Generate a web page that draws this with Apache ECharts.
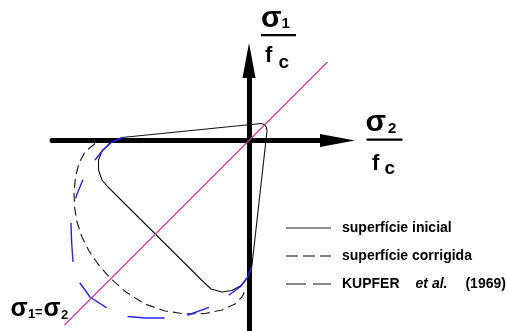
<!DOCTYPE html>
<html>
<head>
<meta charset="utf-8">
<script src="https://cdn.jsdelivr.net/npm/echarts@6/dist/echarts.min.js"></script>
<style>
  html, body { margin: 0; padding: 0; background: #fff; }
  #chart { width: 508px; height: 331px; }
</style>
</head>
<body>
<div id="chart"></div>
<script>
// Biaxial failure envelopes in the (σ2/fc, σ1/fc) plane.
// Each point is [σ2/fc, σ1/fc].

// Initial surface (rounded, closed contour)
const initialSurface = [
  [-1.016, 0.024], [0.096, 0.136], [0.124, 0.128], [0.140, 0.104], [0.144, 0.076],
  [0.024, -0.996], [0.000, -1.084], [-0.056, -1.156], [-0.136, -1.200], [-0.216, -1.212],
  [-0.304, -1.188], [-0.384, -1.112], [-1.128, -0.372], [-1.176, -0.316], [-1.204, -0.236],
  [-1.204, -0.156], [-1.176, -0.084], [-1.112, -0.020], [-1.016, 0.024]
];

// Corrected surface
const correctedSurface = [
  [-1.232, -0.024], [-1.312, -0.092], [-1.360, -0.180], [-1.388, -0.292], [-1.400, -0.412],
  [-1.396, -0.532], [-1.376, -0.652], [-1.336, -0.772], [-1.280, -0.884], [-1.208, -0.988],
  [-1.112, -1.100], [-0.984, -1.212], [-0.832, -1.308], [-0.672, -1.364], [-0.512, -1.388],
  [-0.352, -1.384], [-0.216, -1.356], [-0.112, -1.308], [-0.056, -1.252], [-0.032, -1.204]
];

// Experimental envelope, KUPFER et al. (1969)
const kupferEnvelope = [
  [-1.008, 0.024], [-1.096, -0.012], [-1.168, -0.076], [-1.232, -0.156], [-1.288, -0.236],
  [-1.336, -0.332], [-1.376, -0.428], [-1.408, -0.540], [-1.424, -0.660], [-1.420, -0.796],
  [-1.408, -0.972], [-1.384, -1.060], [-1.352, -1.140], [-1.272, -1.252], [-1.136, -1.340],
  [-0.968, -1.408], [-0.832, -1.420], [-0.672, -1.420], [-0.488, -1.396], [-0.312, -1.332],
  [-0.160, -1.236], [-0.072, -1.172], [-0.016, -1.100], [0.024, -1.012]
];

// Equal biaxial stress path σ1 = σ2
const equalStressLine = [[-1.476, -1.476], [0.628, 0.628]];

const seriesNames = ['superfície inicial', 'superfície corrigida', 'KUPFER et al. (1969)'];

// Visible window of the two stress axes
const xRange = [-1.576, 0.708];
const yRange = [-1.524, 0.64];

const FONT = '"Liberation Sans", Arial, sans-serif';

function label(text, x, baseline, size) {
  // centre the em box so that the glyph baseline lands on `baseline`
  return {
    type: 'text',
    silent: true,
    style: {
      text: text,
      x: x,
      y: baseline - 0.3465 * size,
      fill: '#000',
      font: 'bold ' + size + 'px ' + FONT,
      align: 'left', textAlign: 'left',
      verticalAlign: 'middle', textVerticalAlign: 'middle'
    }
  };
}
function bar(x, y, w) {
  return { type: 'rect', silent: true, shape: { x: x, y: y, width: w, height: 2.2 }, style: { fill: '#000' } };
}

const axisCommon = {
  type: 'value',
  axisLine: {
    show: true,
    onZero: true,
    symbol: ['none', 'triangle'],
    symbolSize: [13, 35],
    lineStyle: { color: '#000', width: 5 }
  },
  axisTick: { show: false },
  axisLabel: { show: false },
  splitLine: { show: false }
};

const chart = echarts.init(document.getElementById('chart'), null, { renderer: 'canvas' });
chart.setOption({
  animation: false,
  backgroundColor: '#fff',
  grid: { left: 52, right: 170.5, top: 60.5, bottom: 0, containLabel: false },
  xAxis: Object.assign({ min: xRange[0], max: xRange[1] }, axisCommon),
  yAxis: Object.assign({ min: yRange[0], max: yRange[1] }, axisCommon),
  legend: {
    orient: 'vertical',
    left: 285,
    top: 221,
    padding: 0,
    itemWidth: 45,
    itemHeight: 16,
    itemGap: 14,
    selectedMode: false,
    itemStyle: { opacity: 0 },
    data: [
      { name: seriesNames[0], lineStyle: { color: '#222', width: 1.1 } },
      { name: seriesNames[1], lineStyle: { color: '#555', width: 1.3, type: [12, 5] } },
      { name: seriesNames[2], lineStyle: { color: '#888', width: 2, type: [20, 7] } }
    ],
    formatter: function (name) {
      if (name === seriesNames[2]) return '{n|KUPFER}{i|et al.}{y|(1969)}';
      return '{n|' + name + '}';
    },
    textStyle: {
      color: '#000',
      fontFamily: FONT,
      fontWeight: 'bold',
      fontSize: 14,
      rich: {
        n: { fontFamily: FONT, fontWeight: 'bold', fontSize: 14, color: '#000', padding: [0, 0, 0, 6], lineHeight: 16 },
        i: { fontFamily: FONT, fontWeight: 'bold', fontStyle: 'italic', fontSize: 14, color: '#000', padding: [0, 0, 0, 16], lineHeight: 16 },
        y: { fontFamily: FONT, fontWeight: 'bold', fontSize: 14, color: '#000', padding: [0, 0, 0, 18], lineHeight: 16 }
      }
    }
  },
  series: [
    {
      name: seriesNames[0], type: 'line', data: initialSurface,
      symbol: 'none', clip: false, z: 3,
      lineStyle: { color: '#111', width: 1.1 }
    },
    {
      name: seriesNames[1], type: 'line', data: correctedSurface,
      symbol: 'none', clip: false, z: 3,
      lineStyle: { color: '#222', width: 1.2, type: [9, 5] }
    },
    {
      name: seriesNames[2], type: 'line', data: kupferEnvelope,
      symbol: 'none', clip: false, z: 4,
      lineStyle: { color: '#2424ee', width: 1.4, type: [37, 23, 20, 25, 39, 22, 37, 23, 37, 23, 23, 23, 40, 60] }
    },
    {
      name: 'σ1 = σ2', type: 'line', data: equalStressLine,
      symbol: 'none', clip: false, z: 5,
      lineStyle: { color: '#c23c9e', width: 1.2 }
    }
  ],
  graphic: [
    // σ1 / fc
    label('σ', 261, 29, 30), label('1', 281.5, 29.5, 15), bar(261, 34, 35),
    label('f', 265, 64, 22), label('c', 278.5, 69, 19),
    // σ2 / fc
    label('σ', 365.5, 133, 30), label('2', 388, 134, 15), bar(366.5, 138.5, 36),
    label('f', 372, 172, 22), label('c', 384.5, 175.5, 19),
    // σ1 = σ2
    label('σ', 10.5, 317.5, 25), label('1', 28, 319, 13), label('=', 35, 317, 13),
    label('σ', 43.5, 317.5, 25), label('2', 61, 319.5, 13)
  ]
});
</script>
</body>
</html>
